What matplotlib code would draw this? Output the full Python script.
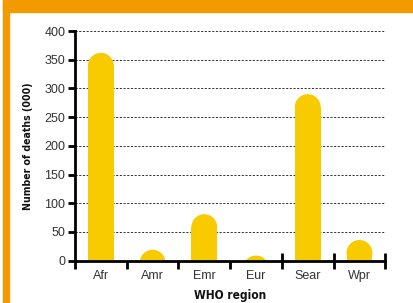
import numpy as np
import matplotlib
matplotlib.use("Agg")
import matplotlib.pyplot as plt
from matplotlib.patches import Ellipse, Rectangle
from matplotlib.ticker import FixedLocator, NullFormatter
import matplotlib.transforms as mtransforms
from matplotlib import font_manager

# data
regions = ["Afr", "Amr", "Emr", "Eur", "Sear", "Wpr"]
deaths = [362, 19, 81, 9, 290, 36]
y_ticks = [0, 50, 100, 150, 200, 250, 300, 350, 400]

ORANGE = "#F39A00"
YELLOW = "#F7CB00"

# pick a condensed bold face if one is installed
cond = None
for f in font_manager.fontManager.ttflist:
    if "Condensed" in f.fname and "Bold" in f.fname and "Oblique" not in f.fname \
            and "Sans" in f.name:
        cond = f.fname
        break

W, H, DPI = 414, 303, 100
fig = plt.figure(figsize=(W / DPI, H / DPI), dpi=DPI)

# orange frame (title band + left strip)
fig.patches.append(Rectangle((3 / W, 1 - 12 / H), 1, 12 / H, transform=fig.transFigure,
                             color=ORANGE, zorder=0))
fig.patches.append(Rectangle((3.5 / W, 0), 5.5 / W, 1, transform=fig.transFigure,
                             color=ORANGE, zorder=0))

ax_l, ax_b, ax_w, ax_h = 75 / W, 42.3 / H, 310.3 / W, 229.7 / H
ax = fig.add_axes([ax_l, ax_b, ax_w, ax_h])
ax.set_xlim(-0.5, len(regions) - 0.5)
ax.set_ylim(0, 400)

# rounded-top bars: rectangle body + circular cap
bar_w = 0.5
x = np.arange(len(regions))
px_per_x = ax_w * W / (len(regions))
px_per_y = ax_h * H / 400
r_px = bar_w / 2 * px_per_x
r_y = r_px / px_per_y
body = [max(v - r_y, 0) for v in deaths]
ax.bar(x, body, width=bar_w, color=YELLOW, zorder=3, linewidth=0)
for xi, v in zip(x, deaths):
    ax.add_patch(Ellipse((xi, v - r_y), bar_w, 2 * r_y, color=YELLOW,
                         zorder=3, linewidth=0))

# grid
for yv in y_ticks[1:]:
    ax.axhline(yv, color="#333333", lw=0.7, ls=(0, (2.2, 1.6)), zorder=1)

# spines
for s in ["top", "right"]:
    ax.spines[s].set_visible(False)
for s in ["left", "bottom"]:
    ax.spines[s].set_linewidth(2)
    ax.spines[s].set_zorder(4)

tick_font = dict(family=["Liberation Sans", "DejaVu Sans"], size=9)
ax.set_yticks(y_ticks)
ax.set_yticklabels([str(v) for v in y_ticks], color="#333333", **tick_font)
ax.tick_params(axis="y", direction="out", length=5, width=2, pad=2)

ax.set_xticks(x)
ax.set_xticklabels(regions, color="#333333", **tick_font)
ax.tick_params(axis="x", which="major", length=0, pad=7)
ax.xaxis.set_minor_locator(FixedLocator(np.arange(-0.5, len(regions), 1)))
ax.xaxis.set_minor_formatter(NullFormatter())
ax.tick_params(axis="x", which="minor", direction="out", length=6, width=2)

# inward ticks on the right-hand boundaries
trans = mtransforms.blended_transform_factory(ax.transData, ax.transAxes)
ax.vlines(np.arange(3.5, len(regions), 1), 0, 8 / (ax_h * H), transform=trans,
          color="black", lw=2, zorder=4, clip_on=False)

if cond:
    lab_font = dict(fontproperties=font_manager.FontProperties(fname=cond))
else:
    lab_font = dict(family="DejaVu Sans", weight="bold")
ylab = ax.set_ylabel("Number of deaths (000)", color="#111111", labelpad=8, **lab_font)
xlab = ax.set_xlabel("WHO region", color="#111111", labelpad=5, **lab_font)
ylab.set_fontsize(7.6)
xlab.set_fontsize(8.6)

fig.savefig("out.png", dpi=DPI)
